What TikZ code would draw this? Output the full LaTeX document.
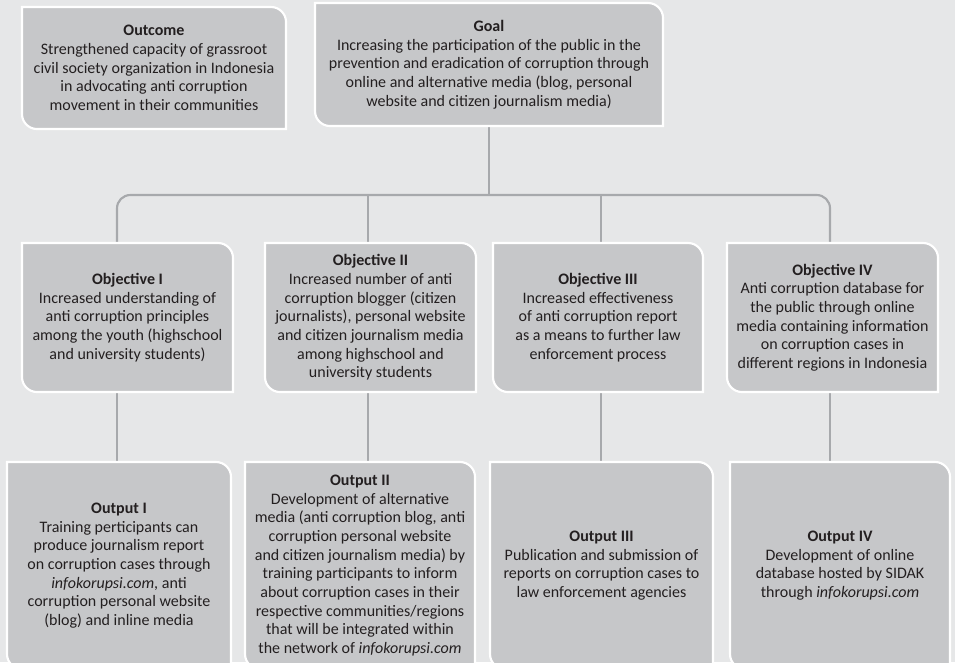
\documentclass[tikz,border=0pt]{standalone}
\usepackage{fontspec}
\setmainfont{Carlito}
\usetikzlibrary{calc}

\definecolor{pagebg}{HTML}{E6E7E8}
\definecolor{boxfill}{HTML}{C6C7C9}
\definecolor{linkgray}{HTML}{A7A9AC}
\definecolor{inkdark}{HTML}{231F20}

\pgfdeclarelayer{lines}
\pgfdeclarelayer{boxes}
\pgfsetlayers{lines,boxes,main}

\tikzset{
  boxtext/.style={inner sep=0pt, align=center, text=inkdark,
    font=\fontsize{12}{14}\selectfont},
  boxshape/.style={fill=boxfill, draw=white, line width=1.6pt},
  conn/.style={draw=linkgray, line width=1.6pt},
}

% #1 name, #2 left, #3 top, #4 right, #5 bottom (pixel units, y downwards), #6 text
% Top-right and bottom-left corners are rounded, the other two are square.
\newcommand\leafbox[6]{%
  \begin{pgfonlayer}{boxes}
    \path[boxshape] (#2,#3) -- ({#4-15},#3)
      .. controls ({#4-6.7},#3) and (#4,{#3+6.7}) .. (#4,{#3+15})
      -- (#4,#5) -- ({#2+15},#5)
      .. controls ({#2+6.7},#5) and (#2,{#5-6.7}) .. (#2,{#5-15})
      -- cycle;
  \end{pgfonlayer}
  \node[boxtext, minimum width={(#4-#2)*0.75pt}, minimum height={(#5-#3)*0.75pt}]
    (#1) at ({(#2+#4)/2},{(#3+#5)/2}) {#6};%
}

\begin{document}
\begin{tikzpicture}[x=0.75pt, y=-0.75pt]
  \begin{pgfonlayer}{lines}
    \fill[pagebg] (0,0) rectangle (955,662);
  \end{pgfonlayer}
  \useasboundingbox (0,0) rectangle (955,662);

  % top row
  \leafbox{outcome}{22}{7}{286}{129}{\textbf{Outcome}\\Strengthened capacity of grassroot\\civil society organization in Indonesia\\in advocating anti corruption\\movement in their communities}
  \leafbox{goal}{315}{3}{663}{126}{\textbf{Goal}\\Increasing the participation of the public in the\\prevention and eradication of corruption through\\online and alternative media (blog, personal\\website and citizen journalism media)}

  % objectives
  \leafbox{obj1}{22}{243}{233}{392}{\textbf{Objective I}\\Increased understanding of\\anti corruption principles\\among the youth (highschool\\and university students)}
  \leafbox{obj2}{265}{243}{476}{392}{\textbf{Objective II}\\Increased number of anti\\corruption blogger (citizen\\journalists), personal website\\and citizen journalism media\\among highschool and\\university students}
  \leafbox{obj3}{493}{243}{703}{392}{\textbf{Objective III}\\Increased effectiveness\\of anti corruption report\\as a means to further law\\enforcement process}
  \leafbox{obj4}{727}{243}{938}{392}{\textbf{Objective IV}\\Anti corruption database for\\the public through online\\media containing information\\on corruption cases in\\different regions in Indonesia}

  % outputs
  \leafbox{out1}{7}{462}{231}{669}{\textbf{Output I}\\Training perticipants can\\produce journalism report\\on corruption cases through\\\textit{infokorupsi.com}, anti\\corruption personal website\\(blog) and inline media}
  \leafbox{out2}{245}{462}{475}{669}{\textbf{Output II}\\Development of alternative\\media (anti corruption blog, anti\\corruption personal website\\and citizen journalism media) by\\training participants to inform\\about corruption cases in their\\respective communities/regions\\that will be integrated within\\the network of \textit{infokorupsi.com}}
  \leafbox{out3}{490}{462}{713}{669}{\textbf{Output III}\\Publication and submission of\\reports on corruption cases to\\law enforcement agencies}
  \leafbox{out4}{730}{462}{950}{669}{\textbf{Output IV}\\Development of online\\database hosted by SIDAK\\through \textit{infokorupsi.com}}

  % branch points on the distribution bar
  \coordinate (s1) at (117,195);
  \coordinate (s2) at (368,195);
  \coordinate (s3) at (601,195);
  \coordinate (s4) at (830,195);

  \begin{pgfonlayer}{lines}
    \draw[conn] (goal.south) -- (goal.south |- s1);
    \draw[conn, rounded corners=10pt] (obj1.north -| s1) |- (goal.south |- s1) -| (obj4.north -| s4);
    \draw[conn] (s2) -- (obj2.north -| s2);
    \draw[conn] (s3) -- (obj3.north -| s3);
    \draw[conn] (obj1.south -| s1) -- (out1.north -| s1);
    \draw[conn] (obj2.south -| s2) -- (out2.north -| s2);
    \draw[conn] (obj3.south -| s3) -- (out3.north -| s3);
    \draw[conn] (obj4.south -| s4) -- (out4.north -| s4);
  \end{pgfonlayer}
\end{tikzpicture}
\end{document}
